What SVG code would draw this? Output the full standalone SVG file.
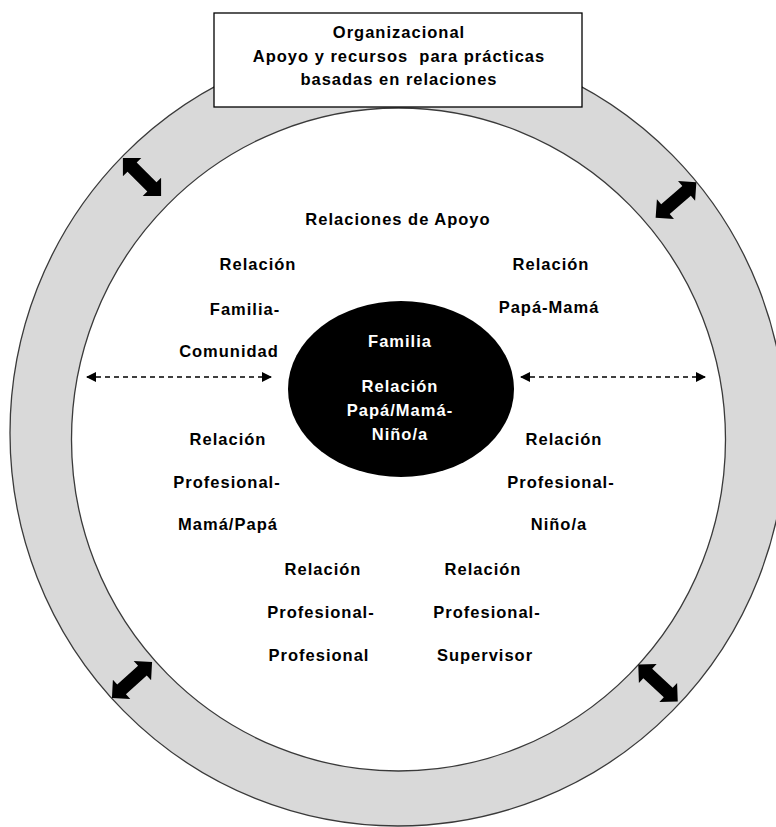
<svg xmlns="http://www.w3.org/2000/svg" width="776" height="827" viewBox="0 0 776 827">
<defs>
<style>
text{font-family:"Liberation Sans",Arial,sans-serif;font-weight:bold;font-size:16.5px;letter-spacing:1px;text-anchor:middle;fill:#000;white-space:pre}
.w{fill:#fff}
.ring{fill:#d9d9d9;stroke:#3a3a3a;stroke-width:1.3}
.inner{fill:#fff;stroke:#3a3a3a;stroke-width:1.3}
.dash{stroke:#000;stroke-width:1.3;stroke-dasharray:5 4;fill:none}
.blk{fill:#000}
</style>
<marker id="ah" viewBox="0 0 10 10" refX="9" refY="5" markerWidth="11" markerHeight="10" markerUnits="userSpaceOnUse" orient="auto-start-reverse">
<path d="M0,0 L10,5 L0,10 z" fill="#000"/>
</marker>
<path id="dbl" d="M-27,0 L-14,-13 L-14,-6.5 L14,-6.5 L14,-13 L27,0 L14,13 L14,6.5 L-14,6.5 L-14,13 z"/>
</defs>
<rect width="776" height="827" fill="#fff"/>
<g id="ring">
<ellipse class="ring" cx="398" cy="433" rx="388" ry="393"/>
<ellipse class="inner" cx="398.5" cy="439.5" rx="327" ry="331.5"/>
</g>
<g id="organizacional">
<rect x="214" y="13" width="368" height="94" fill="#fff" stroke="#000" stroke-width="1.3"/>
<text x="399" y="38">Organizacional</text>
<text x="399" y="62">Apoyo y recursos  para prácticas</text>
<text x="399" y="85">basadas en relaciones</text>
</g>
<g id="familia">
<ellipse cx="401" cy="389" rx="113" ry="88" fill="#000"/>
<text class="w" x="400" y="347">Familia</text>
<text class="w" x="400" y="392">Relación</text>
<text class="w" x="400" y="416">Papá/Mamá-</text>
<text class="w" x="400" y="440">Niño/a</text>
</g>
<g id="apoyo">
<text x="398" y="225">Relaciones de Apoyo</text>
</g>
<g id="familia-comunidad">
<text x="258" y="270">Relación</text>
<text x="245" y="315">Familia-</text>
<text x="229" y="357">Comunidad</text>
</g>
<g id="papa-mama">
<text x="551" y="270">Relación</text>
<text x="549" y="313">Papá-Mamá</text>
</g>
<g id="prof-mama">
<text x="228" y="445">Relación</text>
<text x="227" y="488">Profesional-</text>
<text x="228" y="530">Mamá/Papá</text>
</g>
<g id="prof-nino">
<text x="564" y="445">Relación</text>
<text x="561" y="488">Profesional-</text>
<text x="559" y="530">Niño/a</text>
</g>
<g id="prof-prof">
<text x="323" y="575">Relación</text>
<text x="321" y="618">Profesional-</text>
<text x="319" y="661">Profesional</text>
</g>
<g id="prof-sup">
<text x="483" y="575">Relación</text>
<text x="487" y="618">Profesional-</text>
<text x="485" y="661">Supervisor</text>
</g>
<g id="connectors">
<line class="dash" x1="87" y1="377" x2="271" y2="377" marker-start="url(#ah)" marker-end="url(#ah)"/>
<line class="dash" x1="521" y1="377" x2="705" y2="377" marker-start="url(#ah)" marker-end="url(#ah)"/>
<use href="#dbl" class="blk" transform="translate(142,177) rotate(45)"/>
<use href="#dbl" class="blk" transform="translate(676,200) rotate(-41)"/>
<use href="#dbl" class="blk" transform="translate(132,680) rotate(-42)"/>
<use href="#dbl" class="blk" transform="translate(658,683) rotate(43)"/>
</g>
</svg>
